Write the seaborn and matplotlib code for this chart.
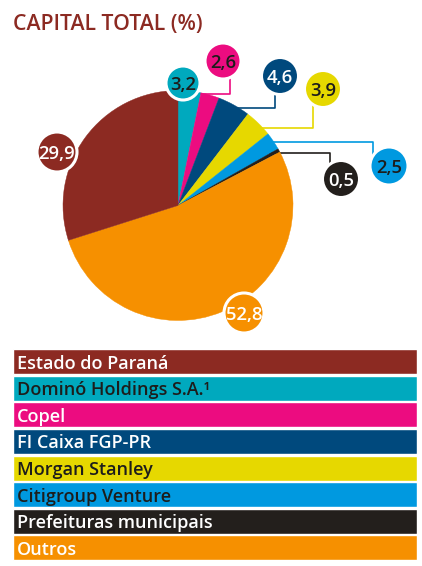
import matplotlib
matplotlib.use("Agg")
import matplotlib.pyplot as plt
import seaborn as sns
import pandas as pd
from matplotlib.patches import Circle

# ---------------- data ----------------
categories = ["Estado do Paraná", "Dominó Holdings S.A.¹", "Copel", "FI Caixa FGP-PR",
              "Morgan Stanley", "Citigroup Venture", "Prefeituras municipais", "Outros"]
shares = [29.9, 3.2, 2.6, 4.6, 3.9, 2.5, 0.5, 52.8]
value_labels = ["29,9", "3,2", "2,6", "4,6", "3,9", "2,5", "0,5", "52,8"]
colors = ["#8C2A22", "#00A9BE", "#EC0C80", "#00497D", "#E6D800", "#0099E0", "#231F1C", "#F69000"]
legend_text_colors = ["white", "#1d1d1b", "white", "white", "#1d1d1b", "#1d1d1b", "white", "white"]
bubble_text_colors = ["white", "#1d1d1b", "#1d1d1b", "white", "#1d1d1b", "#1d1d1b", "white", "white"]
title = "CAPITAL TOTAL (%)"

# order of wedges, clockwise from 12 o'clock
pie_order = [1, 2, 3, 4, 5, 6, 7, 0]

# ---------------- layout (pixel coords, y from top) ----------------
W, H = 422, 566
pie_center = (178, 205.5)
pie_radius = 115
bubble_pos = {0: (57, 152), 1: (183, 83), 2: (223, 61), 3: (280, 76),
              4: (323, 89), 5: (389, 166), 6: (341, 179), 7: (244, 313)}
bubble_r = {0: 20, 1: 17, 2: 18, 3: 18.5, 4: 18.5, 5: 19, 6: 18.5, 7: 20}
leaders = {
    2: [(230, 75), (230, 93.5), (200, 93.5)],
    3: [(275, 90), (275, 108), (235, 108)],
    4: [(313, 100), (313, 127.5), (255, 127.5)],
    5: [(373, 155), (373, 141.7), (265, 141.7)],
    6: [(330, 165), (330, 153.3), (265, 153.3)],
}

sns.set_theme(style="white")
plt.rcParams["font.family"] = ["Open Sans", "DejaVu Sans"]

fig = plt.figure(figsize=(W / 100, H / 100), dpi=100)
fig.patch.set_facecolor("white")

ax = fig.add_axes([0, 0, 1, 1])

def fy(y):
    return H - y

vals = [shares[i] for i in pie_order]
cols = [colors[i] for i in pie_order]
wedges, _ = ax.pie(vals, colors=cols, startangle=90, counterclock=False,
                   center=(pie_center[0], fy(pie_center[1])), radius=pie_radius,
                   wedgeprops=dict(linewidth=0.3))
for w, c in zip(wedges, cols):
    w.set_edgecolor(c)
    w.set_zorder(3)
ax.set_xlim(0, W)
ax.set_ylim(0, H)
ax.set_aspect("equal")
ax.axis("off")

for i, pts in leaders.items():
    xs = [p[0] for p in pts]
    ys = [fy(p[1]) for p in pts]
    ax.plot(xs, ys, color=colors[i], lw=1.2, zorder=2, solid_capstyle="butt")

for i, (x, y) in bubble_pos.items():
    c = Circle((x, fy(y)), bubble_r[i], facecolor=colors[i], edgecolor="white",
               linewidth=2.2, zorder=5)
    ax.add_patch(c)
    ax.text(x, fy(y), value_labels[i], ha="center", va="center_baseline",
            fontsize=13.3, fontweight="semibold", color=bubble_text_colors[i], zorder=6)

fig.text(13 / W, 1 - 24.5 / H, title, ha="left", va="center", fontsize=15.3,
         fontweight="semibold", color="#8C2A22")

# legend bars
lax = fig.add_axes([13 / W, 4 / H, 404 / W, 213 / H])
df = pd.DataFrame({"owner": categories, "span": [1] * len(categories)})
sns.barplot(data=df, x="span", y="owner", hue="owner", palette=colors,
            width=0.94, legend=False, ax=lax, orient="h", saturation=1)
lax.set_xlim(0, 1)
lax.set_ylim(len(categories) - 0.5 + 0.03, -0.5 + 0.03)
lax.axis("off")
for i, name in enumerate(categories):
    lax.text(0.01, i, name, ha="left", va="center_baseline", fontsize=13,
             fontweight="semibold", color=legend_text_colors[i])

fig.savefig("out.png", dpi=100, facecolor="white")
